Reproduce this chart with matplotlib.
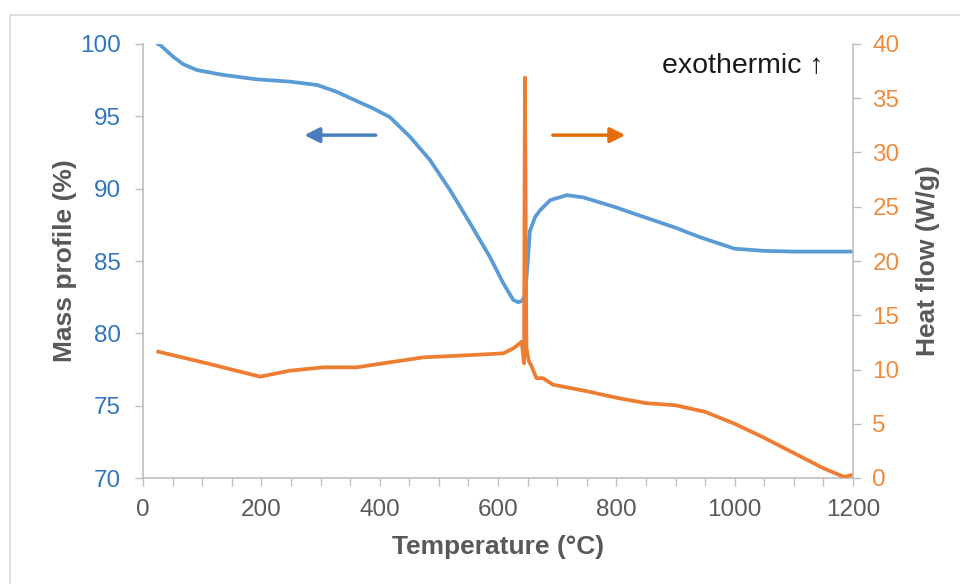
import numpy as np
import matplotlib
matplotlib.use('Agg')
import matplotlib.pyplot as plt
from matplotlib.patches import Rectangle
from matplotlib.ticker import MultipleLocator

plt.rcParams['font.family'] = ['Liberation Sans', 'DejaVu Sans']

# TGA mass curve
temp_mass = [25, 29, 51, 68, 91, 136, 192, 248, 294, 327, 361, 389, 417, 451, 485, 519, 553, 586, 609,
             620, 626, 634, 641, 646, 650, 654, 663, 671, 688, 716, 744, 800, 828, 900, 941, 1000,
             1050, 1100, 1150, 1200]
mass = [100, 99.93, 99.12, 98.6, 98.2, 97.86, 97.56, 97.4, 97.17, 96.7, 96.06, 95.55, 94.95, 93.6, 91.98,
        89.9, 87.6, 85.3, 83.46, 82.7, 82.3, 82.15, 82.25, 82.7, 84.8, 87.1, 88.06, 88.5, 89.2, 89.55,
        89.4, 88.7, 88.3, 87.3, 86.65, 85.85, 85.7, 85.65, 85.65, 85.65]

# DSC heat flow curve
temp_heat = [26, 108, 198, 248, 305, 361, 417, 474, 558, 609, 626, 640, 644, 645.5, 648, 652,
             657, 665, 676, 693, 750, 800, 850, 900, 950, 1000, 1050, 1100, 1150, 1185, 1200]
heat = [11.64, 10.57, 9.34, 9.89, 10.2, 10.2, 10.66, 11.12, 11.34, 11.49, 11.95, 12.56, 10.57, 36.9, 12.0, 10.8,
        10.26, 9.2, 9.2, 8.6, 8.0, 7.4, 6.9, 6.7, 6.1, 5.0, 3.7, 2.3, 0.9, 0.1, 0.3]

blue = '#5B9BD5'
orange = '#ED7D31'
blue_txt = '#2F75C1'
orange_txt = '#F08A3C'
grey_txt = '#595959'
axis_grey = '#BFBFBF'

fig = plt.figure(figsize=(9.6, 5.84), dpi=100)
fig.patches.append(Rectangle((10 / 960, -0.1), 1.2, 1 - 15 / 584 + 0.1, transform=fig.transFigure,
                             fill=False, edgecolor='#D9D9D9', linewidth=1.2))

ax = fig.add_axes([143 / 960, 1 - 478 / 584, 710 / 960, 434 / 584])
ax2 = ax.twinx()

ax.plot(temp_mass, mass, color=blue, lw=2.7, solid_capstyle='round', solid_joinstyle='round', zorder=3)
ax2.plot(temp_heat, heat, color=orange, lw=2.7, solid_joinstyle='round')

ax.set_xlim(0, 1200)
ax.set_ylim(70, 100)
ax2.set_ylim(0, 40)
ax.xaxis.set_major_locator(MultipleLocator(200))
ax.xaxis.set_minor_locator(MultipleLocator(50))
ax.yaxis.set_major_locator(MultipleLocator(5))
ax2.yaxis.set_major_locator(MultipleLocator(5))

for a in (ax, ax2):
    a.patch.set_visible(False)
    a.spines['top'].set_visible(False)
    for s in ('left', 'right', 'bottom'):
        a.spines[s].set_color(axis_grey)
        a.spines[s].set_linewidth(1.2)

ax.spines['right'].set_visible(False)
ax2.spines['left'].set_visible(False)
ax2.spines['bottom'].set_visible(False)

ax.tick_params(axis='x', which='both', direction='out', length=6, width=1, color=axis_grey,
               labelsize=17.5, labelcolor=grey_txt, pad=9)
ax.tick_params(axis='y', direction='out', length=6, width=1, color=axis_grey,
               labelsize=17.5, labelcolor=blue_txt, pad=10)
ax2.tick_params(axis='y', direction='out', length=6, width=1, color=axis_grey,
                labelsize=17.5, labelcolor=orange_txt, pad=8)

ax.set_xlabel('Temperature (°C)', fontsize=19, fontweight='bold', color=grey_txt, labelpad=10)
ax.set_ylabel('Mass profile (%)', fontsize=19, fontweight='bold', color=grey_txt, labelpad=2)
ax2.set_ylabel('Heat flow (W/g)', fontsize=19, fontweight='bold', color=grey_txt, labelpad=12)

# direction arrows pointing to each axis
ax.annotate('', xy=(268, 93.7), xytext=(398, 93.7),
            arrowprops=dict(arrowstyle='-|>,head_length=0.9,head_width=0.45', color='#4A7EBB', lw=2.5))
ax2.annotate('', xy=(820, 31.6), xytext=(688, 31.6),
             arrowprops=dict(arrowstyle='-|>,head_length=0.9,head_width=0.45', color='#E46C0A', lw=2.5))

ax2.text(1150, 38.0, 'exothermic ↑', fontsize=20.5, color='#1A1A1A', ha='right', va='center',
         family=['Liberation Sans', 'DejaVu Sans'])

fig.savefig('out.png', dpi=100)
